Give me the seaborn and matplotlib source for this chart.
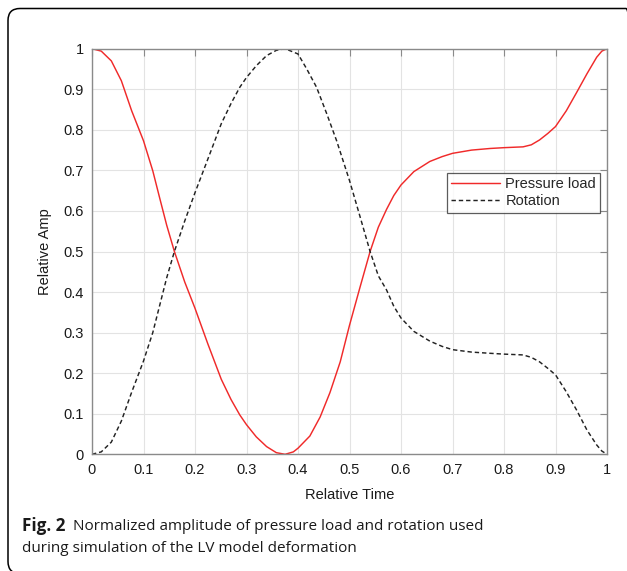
import matplotlib
matplotlib.use("Agg")
import matplotlib.pyplot as plt
import matplotlib.transforms as mtransforms
import seaborn as sns
import pandas as pd
from matplotlib.patches import FancyBboxPatch

# ---- data ----
t_pressure = [0.0, 0.018, 0.0375, 0.057, 0.077, 0.1, 0.118, 0.131, 0.145, 0.16, 0.18, 0.2,
              0.225, 0.251, 0.27, 0.287, 0.3, 0.319, 0.339, 0.358, 0.375, 0.391, 0.4, 0.423,
              0.443, 0.462, 0.482, 0.5, 0.52, 0.54, 0.556, 0.572, 0.586, 0.6, 0.625, 0.656,
              0.68, 0.7, 0.737, 0.773, 0.8, 0.837, 0.853, 0.869, 0.885, 0.9, 0.921, 0.941,
              0.961, 0.98, 0.99, 1.0]
pressure = [1.0, 0.994, 0.970, 0.921, 0.847, 0.773, 0.699, 0.634, 0.565, 0.5, 0.425, 0.36,
            0.272, 0.185, 0.135, 0.097, 0.073, 0.043, 0.019, 0.004, 0.0, 0.006, 0.015, 0.045,
            0.092, 0.152, 0.228, 0.318, 0.41, 0.5, 0.56, 0.604, 0.638, 0.664, 0.697, 0.722,
            0.734, 0.742, 0.75, 0.754, 0.756, 0.758, 0.763, 0.775, 0.791, 0.808, 0.847, 0.892,
            0.938, 0.979, 0.994, 1.0]

t_rotation = [0.0, 0.018, 0.0375, 0.057, 0.077, 0.1, 0.118, 0.131, 0.145, 0.16, 0.18, 0.2,
              0.225, 0.251, 0.27, 0.287, 0.3, 0.319, 0.339, 0.358, 0.375, 0.4, 0.417, 0.436,
              0.456, 0.475, 0.5, 0.52, 0.54, 0.556, 0.572, 0.586, 0.6, 0.625, 0.656, 0.68,
              0.7, 0.737, 0.773, 0.8, 0.837, 0.853, 0.869, 0.885, 0.9, 0.921, 0.941, 0.961,
              0.98, 0.99, 1.0]
rotation = [0.0, 0.006, 0.03, 0.082, 0.153, 0.23, 0.3, 0.365, 0.435, 0.5, 0.575, 0.645,
            0.728, 0.815, 0.865, 0.905, 0.929, 0.958, 0.983, 0.996, 1.0, 0.987, 0.950, 0.905,
            0.839, 0.773, 0.675, 0.588, 0.5, 0.44, 0.405, 0.365, 0.336, 0.303, 0.279, 0.266,
            0.258, 0.252, 0.249, 0.247, 0.245, 0.239, 0.228, 0.212, 0.196, 0.154, 0.109, 0.06,
            0.023, 0.008, 0.0]

series_names = ["Pressure load", "Rotation"]
tick_values = [0, 0.1, 0.2, 0.3, 0.4, 0.5, 0.6, 0.7, 0.8, 0.9, 1]
tick_labels = ["0", "0.1", "0.2", "0.3", "0.4", "0.5", "0.6", "0.7", "0.8", "0.9", "1"]
x_label = "Relative Time"
y_label = "Relative Amp"
caption_bold = "Fig. 2"
caption_line1 = "Normalized amplitude of pressure load and rotation used"
caption_line2 = "during simulation of the LV model deformation"

df = pd.concat([
    pd.DataFrame({"t": t_pressure, "v": pressure, "s": series_names[0]}),
    pd.DataFrame({"t": t_rotation, "v": rotation, "s": series_names[1]}),
])

sns.set_theme(style="white")
plt.rcParams["font.family"] = ["Liberation Sans", "DejaVu Sans"]

W, H = 627, 571
fig = plt.figure(figsize=(W / 100, H / 100), dpi=100)
fig.patch.set_facecolor("white")

# rounded frame (pixel coordinates, origin bottom-left); right/bottom run off the image
frame = FancyBboxPatch((8, -2.5), 630, 565,
                       boxstyle="round,pad=0,rounding_size=12",
                       transform=mtransforms.IdentityTransform(), fill=False,
                       edgecolor="black", linewidth=1.1)
fig.patches.append(frame)

ax = fig.add_axes([92 / W, (H - 454.3) / H, (607 - 92) / W, (454.3 - 48.7) / H])

sns.lineplot(data=df, x="t", y="v", hue="s", style="s",
             palette={series_names[0]: "#f02a2a", series_names[1]: "#222222"},
             dashes={series_names[0]: "", series_names[1]: (3, 2)},
             linewidth=1.05, sort=False, estimator=None, ax=ax)

ax.set_xlim(0, 1)
ax.set_ylim(0, 1)
ax.set_xticks(tick_values)
ax.set_xticklabels(tick_labels)
ax.set_yticks(tick_values)
ax.set_yticklabels(tick_labels)
ax.grid(True, color="#e3e3e3", linewidth=0.8)
ax.set_axisbelow(True)
for sp in ax.spines.values():
    sp.set_color("#8a8a8a")
    sp.set_linewidth(1.0)
ax.tick_params(direction="in", length=5, width=0.8, color="#8a8a8a",
               top=True, right=True, labelsize=10.5, labelcolor="#1a1a1a", pad=6)
ax.set_xlabel(x_label, fontsize=10.5, color="#1a1a1a", labelpad=8)
ax.set_ylabel(y_label, fontsize=10.5, color="#1a1a1a", labelpad=8)

leg = ax.legend(loc="upper left", bbox_to_anchor=((447 - 92) / 515, (454.3 - 173) / 405.6),
                fontsize=10.5, frameon=True, fancybox=False, handlelength=3.3,
                borderpad=0.3, labelspacing=0.2, handletextpad=0.4, borderaxespad=0)
leg.get_frame().set_edgecolor("#333333")
leg.get_frame().set_linewidth(0.9)
leg.set_title(None)

# caption
cap_family = ["Open Sans", "DejaVu Sans"]
fig.text(22 / W, 1 - 526 / H, caption_bold, fontsize=12.3, fontweight="bold",
         family=cap_family, va="center", ha="left", color="#1a1a1a")
fig.text(73 / W, 1 - 526 / H, caption_line1, fontsize=11,
         family=cap_family, va="center", ha="left", color="#1a1a1a")
fig.text(22 / W, 1 - 549 / H, caption_line2, fontsize=11,
         family=cap_family, va="center", ha="left", color="#1a1a1a")

fig.savefig("out.png", dpi=100)
